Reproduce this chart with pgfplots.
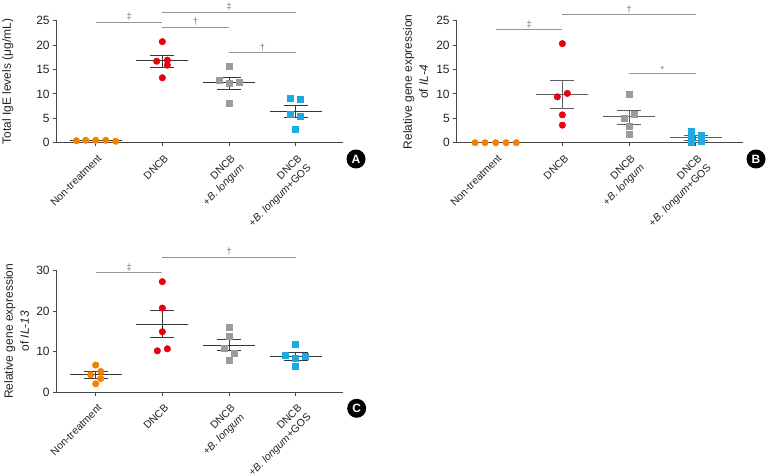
\documentclass[border=0pt]{standalone}
\usepackage{fontspec}
\setmainfont{Liberation Sans}
\usepackage{pgfplots}
\pgfplotsset{compat=1.18}

\definecolor{cOr}{RGB}{240,130,0}
\definecolor{cRd}{RGB}{230,0,18}
\definecolor{cGy}{RGB}{155,155,155}
\definecolor{cCy}{RGB}{30,170,225}
\definecolor{cAx}{RGB}{70,70,70}
\definecolor{cMn}{RGB}{55,55,55}
\definecolor{cMnB}{RGB}{95,95,95}
\definecolor{cSig}{RGB}{150,150,150}
\definecolor{cSigT}{RGB}{110,110,110}
\definecolor{cTx}{RGB}{35,35,35}

\pgfplotsset{
  panel/.style={
    scale only axis, width=286.3pt, height=122pt,
    xmin=-0.585, xmax=3.71, ymin=0,
    axis x line=bottom, axis y line=left,
    axis line style={-, draw=cAx, line width=0.9pt},
    tick align=outside, major tick length=3.5pt,
    tick style={draw=cAx, line width=0.9pt},
    xtick={0,1,2,3},
    xticklabels={Non-treatment,DNCB,{DNCB\\+\textit{B. longum}},{DNCB\\+\textit{B. longum}+GOS}},
    x tick label style={rotate=45, anchor=north east, align=right, yshift=-3pt, xshift=-1pt, font=\fontsize{10.5}{13}\selectfont, text=cTx},
    y tick label style={font=\fontsize{12}{14}\selectfont, text=cTx},
    /pgf/number format/assume math mode=true,
    ylabel style={anchor=south, inner sep=0pt, align=center, font=\fontsize{12}{16}\selectfont, text=cTx},
    clip=false,
  },
  ptO/.style={only marks, mark=*, mark size=3.3pt, color=cOr, mark options={draw=cOr, fill=cOr}},
  ptR/.style={only marks, mark=*, mark size=3.3pt, color=cRd, mark options={draw=cRd, fill=cRd}},
  ptG/.style={only marks, mark=square*, mark size=3pt, color=cGy, mark options={draw=cGy, fill=cGy}},
  ptC/.style={only marks, mark=square*, mark size=3pt, color=cCy, mark options={draw=cCy, fill=cCy}},
  ms/.style={mark=none, line width=1pt, draw=cMn, unbounded coords=jump},
  sig/.style={mark=none, line width=0.8pt, draw=cSig},
}
\tikzset{sigtxt/.style={anchor=south, inner sep=1.5pt, text=cSigT, font=\fontsize{9}{9}\selectfont},
  badge/.style={circle, fill=black, text=white, minimum size=19pt, inner sep=0pt, font=\bfseries\fontsize{12}{12}\selectfont}}

\begin{document}
\begin{tikzpicture}
\path[use as bounding box] (0,0) rectangle (767pt,474pt);

% ---------------- Panel A ----------------
\begin{axis}[panel, at={(56.7pt,331.3pt)}, anchor=south west,
  ymax=25, ytick={0,5,10,15,20,25},
  ylabel={Total IgE levels (μg/mL)},
  ylabel style={at={(axis description cs:-0.151,0.5)}}]
\addplot[ptO] coordinates {(-0.29,0.4) (-0.15,0.5) (0,0.5) (0.15,0.5) (0.3,0.3)};
\addplot[ptR] coordinates {(1,20.7) (0.915,16.7) (1.075,16.9) (1.075,15.9) (1,13.3)};
\addplot[ptG] coordinates {(1.85,12.8) (2,15.7) (2,12.2) (2.15,12.3) (2,8.0)};
\addplot[ptC] coordinates {(2.925,9.2) (3.075,8.9) (2.925,5.8) (3.075,5.4) (3,2.7)};
\addplot[ms] coordinates {(-0.39,0.45)(0.39,0.45)(0,nan)(0,0.4)(0,0.5)(0,nan)(-0.18,0.4)(0.18,0.4)(0,nan)(-0.18,0.5)(0.18,0.5)};
\addplot[ms] coordinates {(0.61,16.8)(1.39,16.8)(1,nan)(1,15.5)(1,17.9)(1,nan)(0.82,15.5)(1.18,15.5)(1,nan)(0.82,17.9)(1.18,17.9)};
\addplot[ms] coordinates {(1.61,12.3)(2.39,12.3)(2,nan)(2,10.9)(2,13.4)(2,nan)(1.82,10.9)(2.18,10.9)(2,nan)(1.82,13.4)(2.18,13.4)};
\addplot[ms] coordinates {(2.61,6.4)(3.39,6.4)(3,nan)(3,5.2)(3,7.6)(3,nan)(2.82,5.2)(3.18,5.2)(3,nan)(2.82,7.6)(3.18,7.6)};
\addplot[sig] coordinates {(0,24.7)(1,24.7)};
\addplot[sig] coordinates {(1,26.8)(3,26.8)};
\addplot[sig] coordinates {(1,23.7)(2,23.7)};
\addplot[sig] coordinates {(2,18.5)(3,18.5)};
\node[sigtxt] at (axis cs:0.5,24.7) {‡};
\node[sigtxt] at (axis cs:2,26.8) {‡};
\node[sigtxt] at (axis cs:1.5,23.7) {†};
\node[sigtxt] at (axis cs:2.5,18.5) {†};
\end{axis}

% ---------------- Panel B ----------------
\begin{axis}[panel, at={(456.7pt,331.3pt)}, anchor=south west,
  ymax=25, ytick={0,5,10,15,20,25},
  ylabel={Relative gene expression\\of \textit{IL-4}},
  ylabel style={at={(axis description cs:-0.0992,0.5)}},
  ms/.append style={draw=cMnB}]
\addplot[ptO] coordinates {(-0.31,0) (-0.16,0) (0,0) (0.155,0) (0.31,0)};
\addplot[ptR] coordinates {(1,20.3) (1.075,10.1) (0.925,9.4) (1,5.7) (1,3.6)};
\addplot[ptG] coordinates {(2,9.9) (1.925,5.1) (2.075,5.8) (2,3.3) (2,1.7)};
\addplot[ptC] coordinates {(2.93,2.4) (2.93,1.0) (2.93,0.2) (3.08,1.5) (3.08,0.3)};
\addplot[ms] coordinates {(0.61,9.8)(1.39,9.8)(1,nan)(1,7.0)(1,12.7)(1,nan)(0.82,7.0)(1.18,7.0)(1,nan)(0.82,12.7)(1.18,12.7)};
\addplot[ms] coordinates {(1.61,5.3)(2.39,5.3)(2,nan)(2,3.8)(2,6.6)(2,nan)(1.82,3.8)(2.18,3.8)(2,nan)(1.82,6.6)(2.18,6.6)};
\addplot[ms] coordinates {(2.61,1.0)(3.39,1.0)(3,nan)(3,0.5)(3,1.5)(3,nan)(2.82,0.5)(3.18,0.5)(3,nan)(2.82,1.5)(3.18,1.5)};
\addplot[sig] coordinates {(0,23.2)(1,23.2)};
\addplot[sig] coordinates {(1,26.2)(3,26.2)};
\addplot[sig] coordinates {(2,14.1)(3,14.1)};
\node[sigtxt] at (axis cs:0.5,23.2) {‡};
\node[sigtxt] at (axis cs:2,26.2) {†};
\node[sigtxt] at (axis cs:2.5,14.1) {*};
\end{axis}

% ---------------- Panel C ----------------
\begin{axis}[panel, at={(56.7pt,81.7pt)}, anchor=south west,
  ymax=30, ytick={0,10,20,30},
  ylabel={Relative gene expression\\of \textit{IL-13}},
  ylabel style={at={(axis description cs:-0.0957,0.5)}}]
\addplot[ptO] coordinates {(0,6.7) (-0.075,4.3) (0.075,5.1) (0.075,3.4) (0,2.1)};
\addplot[ptR] coordinates {(1,27.2) (1,20.7) (1,14.9) (1.075,10.7) (0.925,10.2)};
\addplot[ptG] coordinates {(2,16.1) (2,13.7) (1.925,10.8) (2.075,9.6) (2,7.8)};
\addplot[ptC] coordinates {(3,11.8) (2.85,9.2) (3.15,8.8) (3,8.4) (3,6.3)};
\addplot[ms] coordinates {(-0.39,4.3)(0.39,4.3)(0,nan)(0,3.4)(0,5.2)(0,nan)(-0.18,3.4)(0.18,3.4)(0,nan)(-0.18,5.2)(0.18,5.2)};
\addplot[ms] coordinates {(0.61,16.7)(1.39,16.7)(1,nan)(1,13.5)(1,20.1)(1,nan)(0.82,13.5)(1.18,13.5)(1,nan)(0.82,20.1)(1.18,20.1)};
\addplot[ms] coordinates {(1.61,11.6)(2.39,11.6)(2,nan)(2,10.2)(2,13.0)(2,nan)(1.82,10.2)(2.18,10.2)(2,nan)(1.82,13.0)(2.18,13.0)};
\addplot[ms] coordinates {(2.61,8.8)(3.39,8.8)(3,nan)(3,7.9)(3,9.7)(3,nan)(2.82,7.9)(3.18,7.9)(3,nan)(2.82,9.7)(3.18,9.7)};
\addplot[sig] coordinates {(0,29.5)(1,29.5)};
\addplot[sig] coordinates {(1,33.2)(3,33.2)};
\node[sigtxt] at (axis cs:0.5,29.5) {‡};
\node[sigtxt] at (axis cs:2,33.2) {†};
\end{axis}

\node[badge] at (356pt,315pt) {A};
\node[badge] at (756pt,315pt) {B};
\node[badge] at (356.7pt,65.7pt) {C};
\end{tikzpicture}
\end{document}
